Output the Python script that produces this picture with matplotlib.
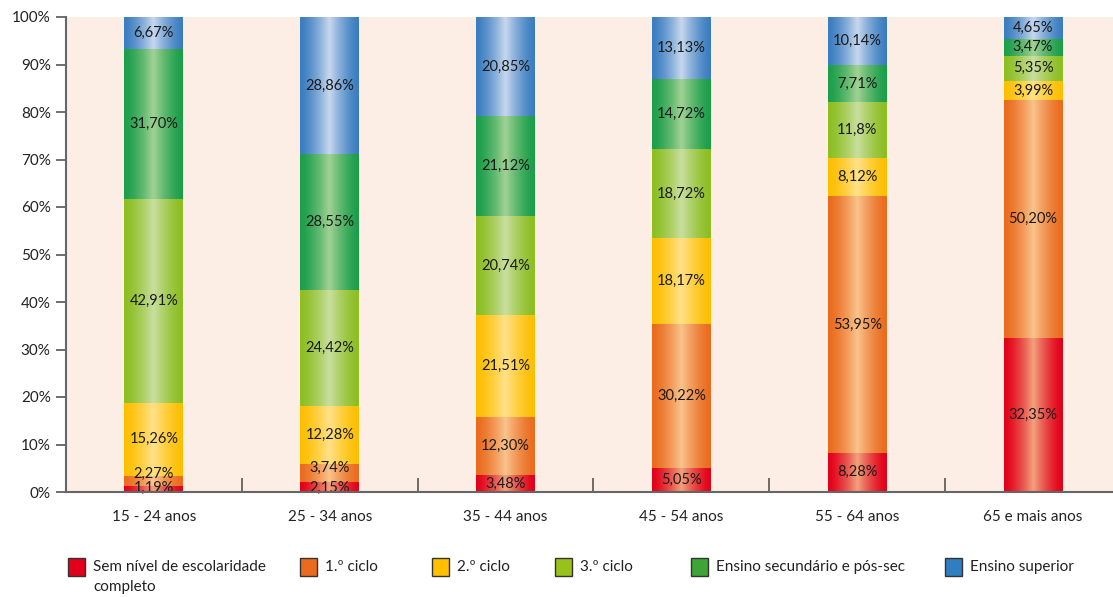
import numpy as np
import matplotlib
matplotlib.use("Agg")
import matplotlib.pyplot as plt
from matplotlib.patches import Rectangle
from matplotlib.colors import to_rgb

plt.rcParams['font.family'] = ['Lato', 'DejaVu Sans']

categories = ["15 - 24 anos", "25 - 34 anos", "35 - 44 anos", "45 - 54 anos", "55 - 64 anos", "65 e mais anos"]
series_names = ["Sem nível de escolaridade\ncompleto", "1.º ciclo", "2.º ciclo", "3.º ciclo",
                "Ensino secundário e pós-sec", "Ensino superior"]

sem_nivel   = ["1,19", "2,15", "3,48", "5,05", "8,28", "32,35"]
ciclo1      = ["2,27", "3,74", "12,30", "30,22", "53,95", "50,20"]
ciclo2      = ["15,26", "12,28", "21,51", "18,17", "8,12", "3,99"]
ciclo3      = ["42,91", "24,42", "20,74", "18,72", "11,8", "5,35"]
secundario  = ["31,70", "28,55", "21,12", "14,72", "7,71", "3,47"]
superior    = ["6,67", "28,86", "20,85", "13,13", "10,14", "4,65"]
series_txt = [sem_nivel, ciclo1, ciclo2, ciclo3, secundario, superior]

yticks = [0, 10, 20, 30, 40, 50, 60, 70, 80, 90, 100]

bar_colors = ["#E2001A", "#EA6B1E", "#FCBF00", "#8DBE22", "#1A9E4A", "#3A7DC0"]
center_colors = ["#F2A27C", "#F9C48C", "#FFE28A", "#C9DFA0", "#A2D294", "#C8D8EE"]
legend_colors = ["#E2001A", "#EA6B1E", "#FFC000", "#98C11A", "#3DA535", "#2E7EC1"]
label_offsets = {(0, 0): 0.3, (0, 1): 1.5, (1, 0): -0.2, (1, 1): 1.0}

W, H = 1113, 597
fig = plt.figure(figsize=(W / 100, H / 100), dpi=100)
ax = fig.add_axes([66 / W, 1 - 492 / H, 1055 / W, (492 - 17) / H])
ax.set_facecolor("#FCEEE5")

x = np.arange(len(categories))
width = 0.335
bottom = np.zeros(len(categories))

def grad_img(color, center, n=64):
    c = np.array(to_rgb(color))
    m = np.array(to_rgb(center))
    t = np.linspace(0, 1, n)
    w = (1 - np.abs(2 * t - 1)) ** 1.4
    img = c[None, :] * (1 - w[:, None]) + m[None, :] * w[:, None]
    return img[None, :, :]

for si, txt in enumerate(series_txt):
    vals = np.array([float(s.replace(",", ".")) for s in txt])
    bars = ax.bar(x, vals, width, bottom=bottom, color=bar_colors[si], linewidth=0, zorder=2)
    for bi, b in enumerate(bars):
        x0, y0 = b.get_x(), b.get_y()
        im = ax.imshow(grad_img(bar_colors[si], center_colors[si]),
                       extent=(x0, x0 + b.get_width(), y0, y0 + b.get_height()),
                       aspect="auto", zorder=3, interpolation="bilinear")
        im.set_clip_path(b)
        yc = y0 + b.get_height() / 2 + label_offsets.get((bi, si), 0)
        ax.text(b.get_x() + b.get_width() / 2, yc, txt[bi] + "%", ha="center", va="center",
                fontsize=10.5, color="#1a1a1a", zorder=5)
    bottom = bottom + vals

ax.set_xlim(-0.5, len(categories) - 0.5)
ax.set_ylim(0, 100)
ax.set_yticks(yticks)
ax.set_yticklabels([f"{t}%" for t in yticks], fontsize=11, color="#222222")
ax.set_xticks(x)
ax.set_xticklabels(categories, fontsize=11, color="#222222")
ax.tick_params(axis="x", length=0, pad=13)
ax.tick_params(axis="y", length=7, width=1.2, color="#555555", pad=4)
for sp in ["top", "right"]:
    ax.spines[sp].set_visible(False)
for sp in ["left", "bottom"]:
    ax.spines[sp].set_color("#666666")
    ax.spines[sp].set_linewidth(1.5)
    ax.spines[sp].set_zorder(6)
ax.set_xticks(np.arange(0.5, len(categories) - 0.5), minor=True)
ax.tick_params(axis="x", which="minor", direction="in", length=10, width=1.2, color="#555555")

# legend
leg_x = [68, 300, 432, 555, 691, 945]
leg_y = 567
for i, name in enumerate(series_names):
    fig.patches.append(Rectangle((leg_x[i] / W, 1 - (leg_y + 9) / H), 17 / W, 18 / H,
                                 transform=fig.transFigure, facecolor=legend_colors[i],
                                 edgecolor="#333333", linewidth=1))
    fig.text((leg_x[i] + 25) / W, 1 - (leg_y - 7) / H, name, ha="left", va="top",
             fontsize=11, color="#222222", linespacing=1.55)

fig.savefig("out.png", dpi=100, facecolor="white")
